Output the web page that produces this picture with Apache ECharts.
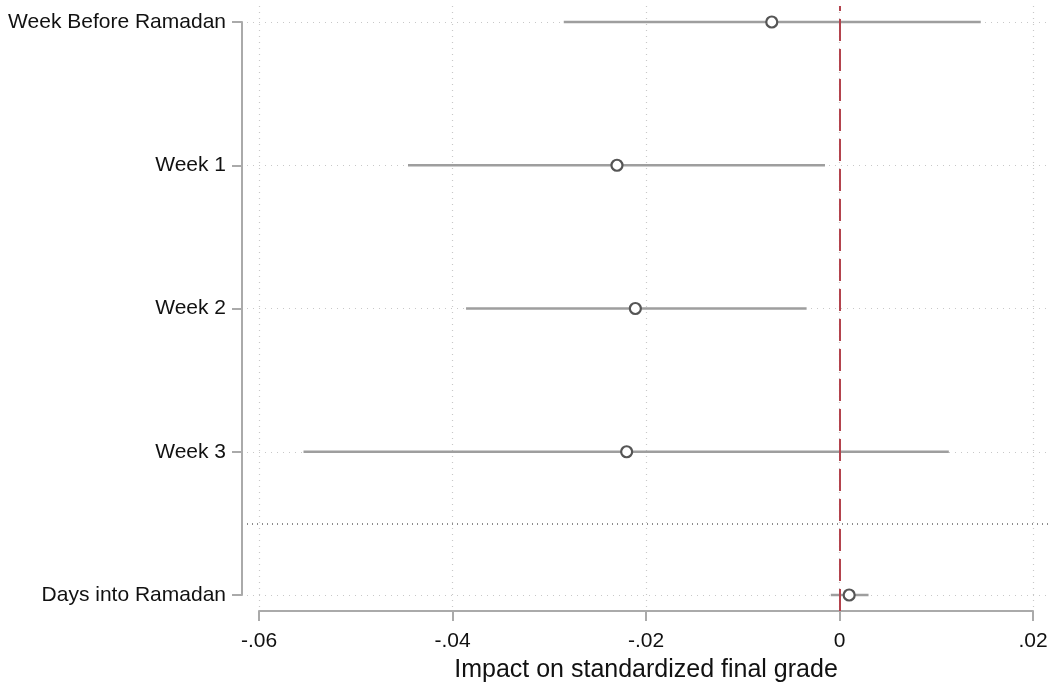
<!DOCTYPE html>
<html>
<head>
<meta charset="utf-8">
<script src="https://cdn.jsdelivr.net/npm/echarts@6/dist/echarts.min.js"></script>
<style>
  html, body { margin: 0; padding: 0; background: #fff; }
  #chart { width: 1051px; height: 688px; }
</style>
</head>
<body>
<div id="chart"></div>
<script>
// rows, top to bottom (Days into Ramadan sits below the separator)
const labels = ['Week Before Ramadan', 'Week 1', 'Week 2', 'Week 3', 'Days into Ramadan'];
const rowPos = [0, 1, 2, 3, 4];
const estimate = [-0.0070, -0.0230, -0.0211, -0.0220, 0.0010];
const ciLow = [-0.0285, -0.0446, -0.0386, -0.0554, -0.0009];
const ciHigh = [0.0146, -0.0015, -0.0034, 0.0113, 0.0030];
const xTicks = [-0.06, -0.04, -0.02, 0, 0.02];
const separatorAt = 3.5;

// the data grid is a bit wider than the drawn x axis (Stata style offset axes)
const axisLeft = 259, axisRight = 18, dataLeft = 247, dataRight = 0;
const span = xTicks[xTicks.length - 1] - xTicks[0];
const axisWidth = 1051 - axisLeft - axisRight;
const perPx = span / axisWidth;
const dataMin = xTicks[0] - (axisLeft - dataLeft) * perPx;
const dataMax = xTicks[xTicks.length - 1] + (axisRight - dataRight) * perPx;

const font = 'Liberation Sans, Arial, sans-serif';

let myChart = echarts.init(document.querySelector('#chart'));

const fmtTick = v => {
    if (Math.abs(v) < 1e-9) return '0';
    return (v < 0 ? '-' : '') + Math.abs(v).toFixed(2).replace(/^0/, '');
};

myChart.setOption({
    animation: false,
    grid: [
        {left: dataLeft, right: dataRight, top: 22, bottom: 93},
        {left: axisLeft, right: axisRight, top: 6, bottom: 77}
    ],
    xAxis: [
        {
            gridIndex: 0, type: 'value', min: dataMin, max: dataMax,
            show: false
        },
        {
            gridIndex: 1, type: 'value', min: -0.06, max: 0.02, interval: 0.02,
            name: 'Impact on standardized final grade',
            nameLocation: 'middle', nameGap: 47,
            nameTextStyle: {fontFamily: font, fontSize: 25, color: '#111'},
            axisLine: {show: true, onZero: false, lineStyle: {color: '#aaaaaa', width: 2}},
            axisTick: {show: true, length: 10, lineStyle: {color: '#aaaaaa', width: 2}},
            axisLabel: {
                fontFamily: font, fontSize: 21, color: '#111', margin: 20,
                formatter: fmtTick
            },
            splitLine: {show: true, lineStyle: {color: '#c8c8c8', type: [1, 5], width: 1.2}}
        }
    ],
    yAxis: [
        {
            gridIndex: 0, type: 'value', inverse: true, min: 0, max: 4, interval: 1,
            offset: 5,
            axisLine: {show: true, onZero: false, lineStyle: {color: '#aaaaaa', width: 2}},
            axisTick: {show: true, length: 10, lineStyle: {color: '#aaaaaa', width: 2}},
            axisLabel: {
                fontFamily: font, fontSize: 21, color: '#111', margin: 16,
                formatter: v => labels[rowPos.indexOf(v)] || ''
            },
            splitLine: {show: true, lineStyle: {color: '#c8c8c8', type: [1, 5], width: 1.2}}
        },
        {gridIndex: 1, type: 'value', min: 0, max: 1, show: false}
    ],
    series: [
        {
            // zero reference line
            type: 'line', xAxisIndex: 1, yAxisIndex: 1, data: [],
            markLine: {
                silent: true, symbol: 'none', label: {show: false},
                lineStyle: {color: '#b3434d', type: [22, 8], width: 2},
                data: [{xAxis: 0}]
            }
        },
        {
            // separator between weekly dummies and the trend term
            type: 'line', xAxisIndex: 0, yAxisIndex: 0, data: [],
            markLine: {
                silent: true, symbol: 'none', label: {show: false},
                lineStyle: {color: '#666666', type: [1, 4], width: 1.5},
                data: [{yAxis: separatorAt}]
            }
        },
        {
            type: 'custom', xAxisIndex: 0, yAxisIndex: 0,
            data: rowPos.map((p, i) => [ciLow[i], ciHigh[i], p]),
            renderItem: function (params, api) {
                const a = api.coord([api.value(0), api.value(2)]);
                const b = api.coord([api.value(1), api.value(2)]);
                return {
                    type: 'line',
                    shape: {x1: a[0], y1: a[1], x2: b[0], y2: b[1]},
                    style: {stroke: '#9e9e9e', lineWidth: 2.5}
                };
            },
            z: 3
        },
        {
            type: 'scatter', xAxisIndex: 0, yAxisIndex: 0,
            data: rowPos.map((p, i) => [estimate[i], p]),
            symbol: 'circle', symbolSize: 11,
            itemStyle: {color: '#ffffff', borderColor: '#555555', borderWidth: 2.2, opacity: 1},
            z: 4
        }
    ]
});
</script>
</body>
</html>
